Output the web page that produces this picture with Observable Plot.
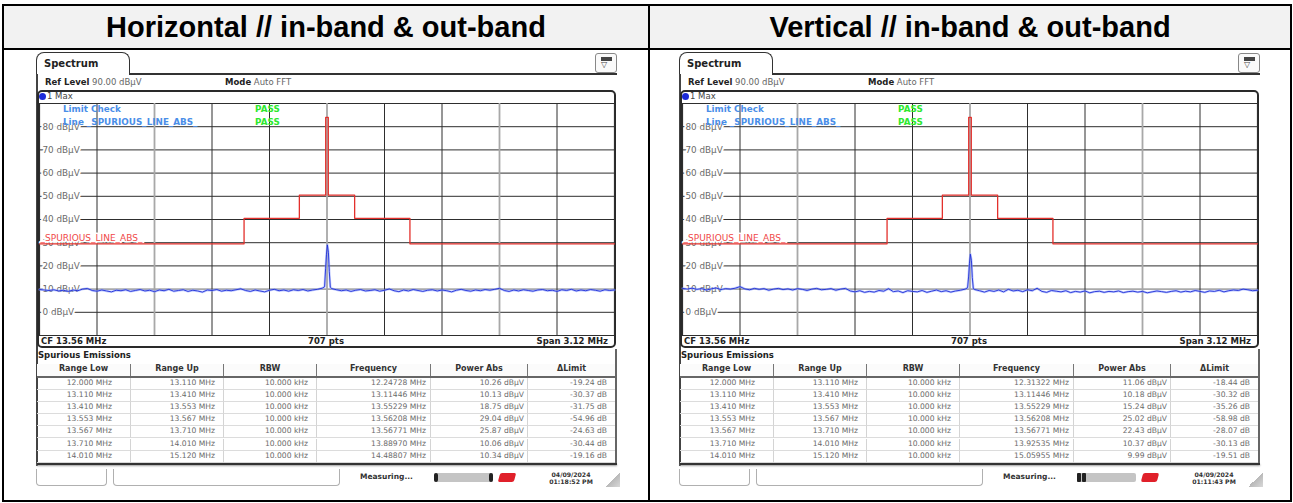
<!DOCTYPE html>
<html><head><meta charset="utf-8">
<script src="https://cdn.jsdelivr.net/npm/d3@7"></script>
<script src="https://cdn.jsdelivr.net/npm/@observablehq/plot@0.6"></script>
<style>
html,body{margin:0;padding:0;background:#fff;}
body{width:1293px;height:503px;position:relative;overflow:hidden;font-family:"DejaVu Sans",sans-serif;}
#root div, #root span{box-sizing:border-box;}
</style></head>
<body><div id="root"></div>
<script>
// ---------------- data ----------------
const titles = ["Horizontal // in-band & out-band", "Vertical // in-band & out-band"];
const freqStart = 12.0, freqSpan = 3.12;
const levelLines = [-10, 0, 10, 20, 30, 40, 50, 60, 70, 80, 90];
const levelLabels = [0, 10, 20, 30, 40, 50, 60, 70, 80];

// limit line _SPURIOUS_LINE_ABS_ (step-after)
const limitFreq  = [12.000, 13.110, 13.410, 13.553, 13.567, 13.710, 14.010, 15.120];
const limitLevel = [29.5, 40.5, 50.5, 84.0, 50.5, 40.5, 29.5, 29.5];

// trace noise floor (dBµV), evenly spaced over the span
const noiseH = [9.8,9.6,9.4,9.7,9.2,9.5,9.0,9.6,9.3,10.0,
  10.26,9.4,9.1,9.6,9.2,8.8,9.5,9.3,9.7,9.0,
  9.4,9.8,9.2,9.5,8.9,9.6,9.3,9.9,9.1,9.4,
  9.7,9.0,9.5,9.2,8.7,9.6,9.4,9.8,9.1,9.5,
  9.3,9.7,10.13,9.4,9.0,9.6,9.2,8.8,9.5,9.9,
  9.3,9.6,9.1,9.7,9.4,9.8,9.2,9.6,9.9,10.4,
  11.0,10.2,9.7,9.3,9.6,9.0,9.5,9.8,9.2,9.4,
  9.7,9.1,9.5,10.06,9.3,8.9,9.6,9.2,9.8,9.4,
  9.0,9.5,9.7,9.2,9.6,9.3,8.8,9.5,9.9,9.4,
  9.1,9.6,9.3,9.8,9.5,9.9,10.34,9.4,9.0,9.6,
  9.2,9.7,9.4,9.1,9.6,9.8,9.3,9.5,9.0,9.7,
  9.4,9.9,9.2,9.6,9.3,9.8,9.5,9.1,9.7,9.4,9.6];
const noiseV = [10.3,10.0,10.4,9.9,10.2,9.6,10.1,10.5,9.8,10.2,
  10.0,10.4,11.06,10.1,9.7,10.3,9.9,10.2,9.5,10.0,
  10.3,9.8,10.1,9.6,10.2,9.9,9.4,10.0,10.3,9.7,
  9.9,10.2,9.5,10.0,10.3,9.2,8.8,9.3,8.6,9.0,
  8.7,9.4,9.1,10.18,8.9,9.2,8.5,9.3,9.0,8.8,
  9.4,8.6,9.1,9.6,8.9,9.3,8.7,9.2,9.5,10.0,
  10.5,9.8,9.3,8.7,9.4,9.0,9.6,8.8,9.9,9.2,
  9.5,8.9,9.7,9.3,10.37,9.0,8.6,9.4,9.1,8.8,
  9.3,8.5,9.0,8.7,9.2,8.4,8.9,9.1,8.6,9.0,
  8.8,9.2,8.5,8.9,9.1,8.7,9.0,8.4,8.8,9.2,
  8.9,8.6,9.0,9.3,8.7,9.1,8.8,9.4,9.0,8.6,
  9.2,9.0,9.5,8.8,9.3,9.6,9.4,9.99,9.7,9.3,9.5];
// carrier peak at 13.56 MHz
const peakFreq = [13.547, 13.5523, 13.5570, 13.5621, 13.5677, 13.5725, 13.578];
const peakH    = [11.0, 18.75, 24.8, 29.04, 25.87, 17.5, 10.8];
const peakV    = [10.6, 15.24, 21.0, 25.02, 22.43, 15.0, 10.2];

// spurious emissions table
const tableHeader = ["Range Low", "Range Up", "RBW", "Frequency", "Power Abs", "ΔLimit"];
const rangeLow = ["12.000 MHz","13.110 MHz","13.410 MHz","13.553 MHz","13.567 MHz","13.710 MHz","14.010 MHz"];
const rangeUp  = ["13.110 MHz","13.410 MHz","13.553 MHz","13.567 MHz","13.710 MHz","14.010 MHz","15.120 MHz"];
const rbw      = ["10.000 kHz","10.000 kHz","10.000 kHz","10.000 kHz","10.000 kHz","10.000 kHz","10.000 kHz"];
const freqH    = ["12.24728 MHz","13.11446 MHz","13.55229 MHz","13.56208 MHz","13.56771 MHz","13.88970 MHz","14.48807 MHz"];
const powerH   = ["10.26 dBµV","10.13 dBµV","18.75 dBµV","29.04 dBµV","25.87 dBµV","10.06 dBµV","10.34 dBµV"];
const dLimitH  = ["-19.24 dB","-30.37 dB","-31.75 dB","-54.96 dB","-24.63 dB","-30.44 dB","-19.16 dB"];
const freqV    = ["12.31322 MHz","13.11446 MHz","13.55229 MHz","13.56208 MHz","13.56771 MHz","13.92535 MHz","15.05955 MHz"];
const powerV   = ["11.06 dBµV","10.18 dBµV","15.24 dBµV","25.02 dBµV","22.43 dBµV","10.37 dBµV","9.99 dBµV"];
const dLimitV  = ["-18.44 dB","-30.32 dB","-35.26 dB","-58.98 dB","-28.07 dB","-30.13 dB","-19.51 dB"];
const times    = ["01:18:52 PM", "01:11:43 PM"];
const dateStr  = "04/09/2024";

// ---------------- helpers ----------------
const root = document.getElementById("root");
function el(tag, css, text, parent) {
  const e = document.createElement(tag);
  e.style.cssText = css;
  if (text != null) e.textContent = text;
  (parent || root).appendChild(e);
  return e;
}
function traceData(noise, pf, pv) {
  const step = freqSpan / (noise.length - 1);
  const pts = noise.map((v, i) => ({f: freqStart + i * step, v}))
    .filter(d => d.f < pf[0] || d.f > pf[pf.length - 1]);
  pf.forEach((f, i) => pts.push({f, v: pv[i]}));
  return pts.sort((a, b) => a.f - b.f);
}
const limitData = limitFreq.map((f, i) => ({f, v: limitLevel[i]}));
const gridFreq = d3.range(0, 11).map(k => freqStart + k * freqSpan / 10);
const grayIdx = [2, 5, 8];

// ---------------- outer table ----------------
el("div", "position:absolute;left:3px;top:5px;width:1288px;height:44px;background:#f2f2f2;");
[[2,4,1290,2],[2,48,1290,2],[2,500,1290,2]].forEach(([x,y,w,h]) => el("div", `position:absolute;left:${x}px;top:${y}px;width:${w}px;height:${h}px;background:#000;`));
[[2,4,2,498],[648,4,2,498],[1290,4,2,498]].forEach(([x,y,w,h]) => el("div", `position:absolute;left:${x}px;top:${y}px;width:${w}px;height:${h}px;background:#000;`));
titles.forEach((t, i) => el("div", `position:absolute;left:${i ? 650 : 4}px;top:6px;width:${i ? 640 : 644}px;height:42px;display:flex;align-items:center;justify-content:center;font:bold 29px 'Liberation Sans',Arial,sans-serif;color:#000;`, t));

// ---------------- panel ----------------
function panel(ox, trace, freqs, powers, dlims, time, progressLeft) {
  const A = (x, y, css, text, parent) => el("div", `position:absolute;left:${ox + x}px;top:${y}px;white-space:nowrap;${css}`, text, parent);
  // outer screen frame
  A(36, 52, "width:94px;height:23px;border:1.5px solid #333;border-bottom:none;border-radius:8px 8px 0 0;background:#fff;font:bold 10px 'DejaVu Sans';color:#222;padding:5px 0 0 7px;", "Spectrum");
  A(129, 73, "width:488px;height:1.5px;background:#333;");
  A(36, 74, "width:1.5px;height:392px;background:#444;");
  A(615, 349, "width:1.5px;height:116px;background:#666;");
  // icon
  const ic = A(595, 53, "width:22px;height:20px;border:1px solid #888;border-radius:3px;background:#fafafa;");
  el("div", "position:absolute;left:5px;top:3px;width:11px;height:4px;background:#444;", null, ic);
  el("div", "position:absolute;left:5px;top:6px;font:8px 'DejaVu Sans';color:#444;", "▽", ic);
  // header info
  const rl = A(45, 77, "font:8.5px 'DejaVu Sans';color:#666;line-height:11px;");
  el("b", "color:#222;", "Ref Level", rl); el("span", "", "  90.00 dBµV", rl);
  const md = A(225, 77, "font:8.5px 'DejaVu Sans';color:#666;line-height:11px;");
  el("b", "color:#222;", "Mode", md); el("span", "", "  Auto FFT", md);
  // diagram frame
  A(37, 90, "width:579px;height:258px;border:2px solid #2a2a2a;border-radius:5px;");
  A(39, 93, "width:7px;height:7px;border-radius:50%;background:#1d2bd8;");
  A(47, 90.5, "font:8.5px 'DejaVu Sans';color:#444;line-height:11px;", "1 Max");

  // Observable Plot diagram
  const chart = Plot.plot({
    width: 580, height: 236,
    marginLeft: 2, marginRight: 3, marginTop: 2, marginBottom: 2,
    x: {domain: [freqStart, freqStart + freqSpan], axis: null},
    y: {domain: [-10, 90], axis: null},
    style: {background: "transparent", overflow: "visible", fontFamily: "DejaVu Sans"},
    marks: [
      Plot.ruleY(levelLines.filter(d => d !== 10), {y: d => d, stroke: "#2e2e2e", strokeWidth: 1}),
      Plot.ruleY([10], {y: d => d, stroke: "#aaaaaa", strokeWidth: 1.6}),
      Plot.ruleX(gridFreq.filter((d, i) => !grayIdx.includes(i)), {x: d => d, stroke: "#2e2e2e", strokeWidth: 1}),
      Plot.ruleX(gridFreq.filter((d, i) => grayIdx.includes(i)), {x: d => d, stroke: "#a8a8a8", strokeWidth: 1.8}),
      Plot.ruleX([freqStart, freqStart + freqSpan], {x: d => d, stroke: "#2e2e2e", strokeWidth: 1.2}),
      Plot.text(levelLabels, {x: freqStart, y: d => d, text: d => `${d} dBµV`, textAnchor: "start", dx: 3, fill: "#6a6a6a", fontSize: 8.8, stroke: "white", strokeWidth: 4}),
      Plot.text(["_SPURIOUS_LINE_ABS_"], {x: freqStart, y: 31.8, text: d => d, textAnchor: "start", dx: 1, fill: "#f04848", fontSize: 9, stroke: "white", strokeWidth: 3}),
      Plot.line(limitData, {x: "f", y: "v", curve: "step-after", stroke: "#e3302c", strokeWidth: 1.3}),
      Plot.line(trace, {x: "f", y: "v", stroke: "#8ea0ff", strokeWidth: 2.4, strokeOpacity: 0.55}),
      Plot.line(trace, {x: "f", y: "v", stroke: "#1e2ed6", strokeWidth: 0.9})
    ]
  });
  const holder = A(37, 101, "width:580px;height:236px;");
  holder.appendChild(chart);

  // limit check overlay
  A(63, 103.5, "font:bold 8.8px 'DejaVu Sans';color:#4a8ee8;line-height:11px;", "Limit Check");
  A(255, 103.5, "font:bold 8.8px 'DejaVu Sans';color:#2ee82e;line-height:11px;", "PASS");
  A(63, 117, "font:bold 8.8px 'DejaVu Sans';color:#4a8ee8;line-height:11px;", "Line  _SPURIOUS_LINE_ABS_");
  A(255, 117, "font:bold 8.8px 'DejaVu Sans';color:#2ee82e;line-height:11px;", "PASS");

  // footer of diagram
  A(41, 335.5, "font:bold 8.5px 'DejaVu Sans';color:#222;line-height:11px;", "CF 13.56 MHz");
  A(326, 335.5, "font:bold 8.5px 'DejaVu Sans';color:#222;line-height:11px;transform:translateX(-50%);", "707 pts");
  A(608, 335.5, "font:bold 8.5px 'DejaVu Sans';color:#222;line-height:11px;transform:translateX(-100%);", "Span 3.12 MHz");

  // spurious emissions table
  A(38, 350, "font:bold 8.5px 'DejaVu Sans';color:#222;line-height:11px;", "Spurious Emissions");
  const colX = [37, 130, 223, 316, 430, 527, 615];
  const pads = [18, 8, 8, 4, 3, 8];
  A(37, 363.5, "width:578px;height:13px;background:#fbfbfb;");
  tableHeader.forEach((h, j) => A(colX[j], 363.5, `width:${colX[j + 1] - colX[j]}px;height:13px;line-height:13px;text-align:center;font:bold 8px 'DejaVu Sans';color:#333;${j ? "border-left:1px solid #777;" : ""}`, h));
  A(37, 376, "width:578px;height:1.5px;background:#666;");
  const rowH = 12.2, row0 = 377.5;
  rangeLow.forEach((r, i) => {
    [r, rangeUp[i], rbw[i], freqs[i], powers[i], dlims[i]].forEach((v, j) =>
      A(colX[j], row0 + i * rowH, `width:${colX[j + 1] - colX[j]}px;height:${rowH}px;line-height:${rowH}px;text-align:right;padding-right:${pads[j]}px;font:7.6px 'DejaVu Sans';color:#6a6a6a;border-bottom:1px solid #dcdcdc;${j ? "border-left:1px solid #d4d4d4;" : ""}`, v));
  });
  A(37, 463, "width:580px;height:2px;background:#333;box-shadow:0 1px 2px #999;");

  // status bar
  A(36, 469, "width:71px;height:17px;border:1px solid #b0b0b0;border-top:none;border-radius:0 0 4px 4px;");
  A(113, 469, "width:227px;height:17px;border:1px solid #b0b0b0;border-top:none;border-radius:0 0 4px 4px;");
  A(360, 472, "font:bold 7.5px 'DejaVu Sans';color:#333;line-height:10px;", "Measuring...");
  const pb = A(434, 472.5, "width:59px;height:9px;background:#c4c4c4;border-radius:2px;");
  if (progressLeft) {
    el("div", "position:absolute;left:0;top:0;width:4px;height:9px;background:#222;border-radius:1px;", null, pb);
    el("div", "position:absolute;left:5px;top:0;width:4px;height:9px;background:#222;border-radius:1px;", null, pb);
  } else {
    el("div", "position:absolute;left:0;top:0;width:4px;height:9px;background:#222;border-radius:2px;", null, pb);
    el("div", "position:absolute;right:0;top:0;width:4px;height:9px;background:#222;border-radius:2px;", null, pb);
  }
  A(499, 473, "width:16px;height:9px;background:#e0202a;border-radius:2px;transform:skewX(-15deg);");
  A(571, 470.5, "font:bold 6.2px 'DejaVu Sans';color:#333;line-height:7.5px;text-align:center;transform:translateX(-50%);", dateStr);
  A(571, 478, "font:bold 6.2px 'DejaVu Sans';color:#333;line-height:7.5px;text-align:center;transform:translateX(-50%);", time);
  A(606, 471, "width:14px;height:16px;background:linear-gradient(135deg, transparent 50%, #b8b8b8 50%, #d8d8d8 100%);");
}

panel(0, traceData(noiseH, peakFreq, peakH), freqH, powerH, dLimitH, times[0], false);
panel(643, traceData(noiseV, peakFreq, peakV), freqV, powerV, dLimitV, times[1], true);
</script></body></html>
